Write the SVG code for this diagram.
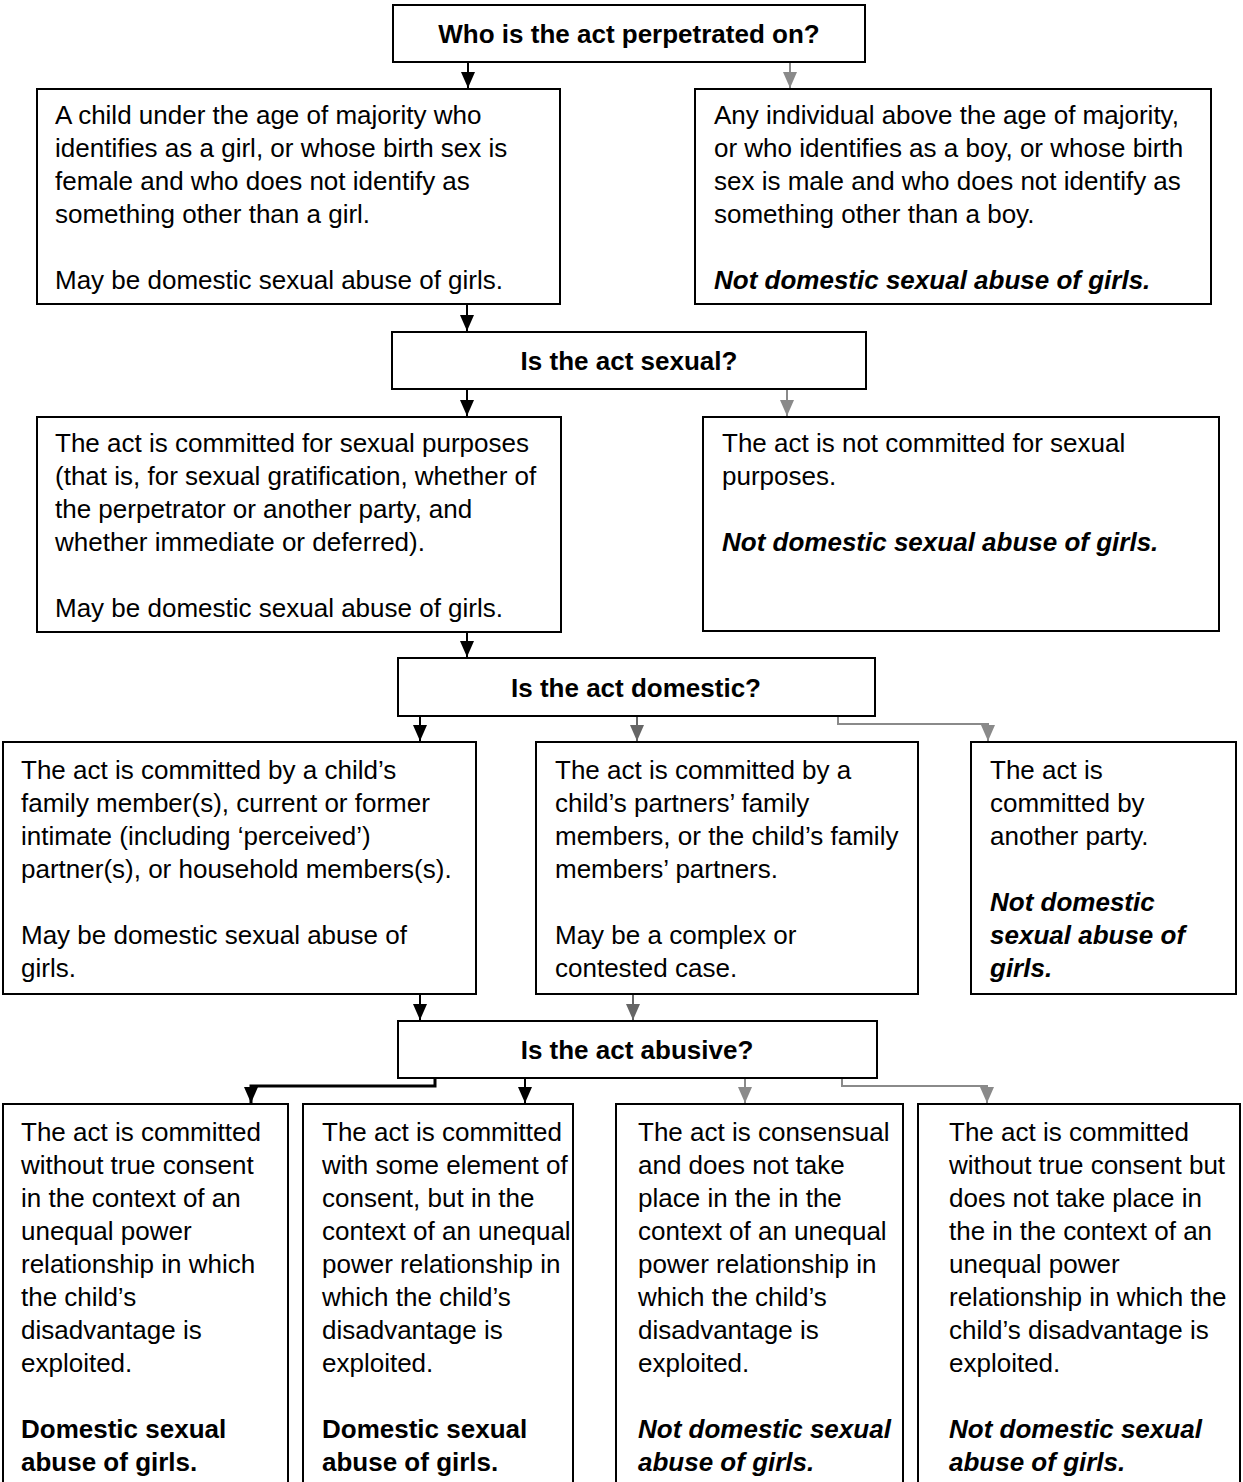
<svg xmlns="http://www.w3.org/2000/svg" width="1243" height="1482" viewBox="0 0 1243 1482">
<style>
.box{fill:#fff;stroke:#000;stroke-width:2}
.t{font-family:"Liberation Sans",Arial,sans-serif;font-size:26px;fill:#000}
.h{font-family:"Liberation Sans",Arial,sans-serif;font-size:26px;font-weight:bold;fill:#000;text-anchor:middle}
.b{font-weight:bold}
.bi{font-weight:bold;font-style:italic}
.k{fill:none;stroke:#000;stroke-width:2}
.g1{fill:none;stroke:#666;stroke-width:2}
.g2{fill:none;stroke:#8a8a8a;stroke-width:2}
</style>
<defs>
<marker id="ak" markerUnits="userSpaceOnUse" markerWidth="14" markerHeight="16" refX="7" refY="16" viewBox="0 0 14 16"><polygon points="0,0 14,0 7,16" fill="#000"/></marker>
<marker id="ag1" markerUnits="userSpaceOnUse" markerWidth="14" markerHeight="16" refX="7" refY="16" viewBox="0 0 14 16"><polygon points="0,0 14,0 7,16" fill="#666"/></marker>
<marker id="ag2" markerUnits="userSpaceOnUse" markerWidth="14" markerHeight="16" refX="7" refY="16" viewBox="0 0 14 16"><polygon points="0,0 14,0 7,16" fill="#8a8a8a"/></marker>
</defs>
<g id="connectors">
<path class="k" d="M468 62 V88" marker-end="url(#ak)"/>
<path class="g2" d="M790 62 V88" marker-end="url(#ag2)"/>
<path class="k" d="M467 304 V331" marker-end="url(#ak)"/>
<path class="k" d="M467 389 V416" marker-end="url(#ak)"/>
<path class="g2" d="M787 389 V416" marker-end="url(#ag2)"/>
<path class="k" d="M467 632 V657" marker-end="url(#ak)"/>
<path class="k" d="M420 716 V741" marker-end="url(#ak)"/>
<path class="g1" d="M637 716 V741" marker-end="url(#ag1)"/>
<path class="g2" d="M838 716 V724 H988 V741" marker-end="url(#ag2)"/>
<path class="k" d="M420 994 V1020" marker-end="url(#ak)"/>
<path class="g1" d="M633 994 V1020" marker-end="url(#ag1)"/>
<path class="k" style="stroke-width:3" d="M435 1078 V1086 H251 V1103" marker-end="url(#ak)"/>
<path class="k" d="M525 1078 V1103" marker-end="url(#ak)"/>
<path class="g2" d="M745 1078 V1103" marker-end="url(#ag2)"/>
<path class="g2" d="M842 1078 V1086 H987 V1103" marker-end="url(#ag2)"/>
</g>
<g id="q1">
<rect class="box" x="393" y="5" width="472" height="57"/>
<text class="h" x="629" y="43">Who is the act perpetrated on?</text>
</g>
<g id="a">
<rect class="box" x="37" y="89" width="523" height="215"/>
<text class="t" x="55" y="124">A child under the age of majority who</text>
<text class="t" x="55" y="157">identifies as a girl, or whose birth sex is</text>
<text class="t" x="55" y="190">female and who does not identify as</text>
<text class="t" x="55" y="223">something other than a girl.</text>
<text class="t" x="55" y="289">May be domestic sexual abuse of girls.</text>
</g>
<g id="b">
<rect class="box" x="695" y="89" width="516" height="215"/>
<text class="t" x="714" y="124">Any individual above the age of majority,</text>
<text class="t" x="714" y="157">or who identifies as a boy, or whose birth</text>
<text class="t" x="714" y="190">sex is male and who does not identify as</text>
<text class="t" x="714" y="223">something other than a boy.</text>
<text class="t bi" x="714" y="289">Not domestic sexual abuse of girls.</text>
</g>
<g id="q2">
<rect class="box" x="392" y="332" width="474" height="57"/>
<text class="h" x="629" y="370">Is the act sexual?</text>
</g>
<g id="c">
<rect class="box" x="37" y="417" width="524" height="215"/>
<text class="t" x="55" y="452">The act is committed for sexual purposes</text>
<text class="t" x="55" y="485">(that is, for sexual gratification, whether of</text>
<text class="t" x="55" y="518">the perpetrator or another party, and</text>
<text class="t" x="55" y="551">whether immediate or deferred).</text>
<text class="t" x="55" y="617">May be domestic sexual abuse of girls.</text>
</g>
<g id="d">
<rect class="box" x="703" y="417" width="516" height="214"/>
<text class="t" x="722" y="452">The act is not committed for sexual</text>
<text class="t" x="722" y="485">purposes.</text>
<text class="t bi" x="722" y="551">Not domestic sexual abuse of girls.</text>
</g>
<g id="q3">
<rect class="box" x="398" y="658" width="477" height="58"/>
<text class="h" x="636" y="697">Is the act domestic?</text>
</g>
<g id="e">
<rect class="box" x="3" y="742" width="473" height="252"/>
<text class="t" x="21" y="779">The act is committed by a child’s</text>
<text class="t" x="21" y="812">family member(s), current or former</text>
<text class="t" x="21" y="845">intimate (including ‘perceived’)</text>
<text class="t" x="21" y="878">partner(s), or household members(s).</text>
<text class="t" x="21" y="944">May be domestic sexual abuse of</text>
<text class="t" x="21" y="977">girls.</text>
</g>
<g id="f">
<rect class="box" x="536" y="742" width="382" height="252"/>
<text class="t" x="555" y="779">The act is committed by a</text>
<text class="t" x="555" y="812">child’s partners’ family</text>
<text class="t" x="555" y="845">members, or the child’s family</text>
<text class="t" x="555" y="878">members’ partners.</text>
<text class="t" x="555" y="944">May be a complex or</text>
<text class="t" x="555" y="977">contested case.</text>
</g>
<g id="g">
<rect class="box" x="971" y="742" width="265" height="252"/>
<text class="t" x="990" y="779">The act is</text>
<text class="t" x="990" y="812">committed by</text>
<text class="t" x="990" y="845">another party.</text>
<text class="t bi" x="990" y="911">Not domestic</text>
<text class="t bi" x="990" y="944">sexual abuse of</text>
<text class="t bi" x="990" y="977">girls.</text>
</g>
<g id="q4">
<rect class="box" x="398" y="1021" width="479" height="57"/>
<text class="h" x="637" y="1059">Is the act abusive?</text>
</g>
<g id="h">
<rect class="box" x="3" y="1104" width="285" height="400"/>
<text class="t" x="21" y="1141">The act is committed</text>
<text class="t" x="21" y="1174">without true consent</text>
<text class="t" x="21" y="1207">in the context of an</text>
<text class="t" x="21" y="1240">unequal power</text>
<text class="t" x="21" y="1273">relationship in which</text>
<text class="t" x="21" y="1306">the child’s</text>
<text class="t" x="21" y="1339">disadvantage is</text>
<text class="t" x="21" y="1372">exploited.</text>
<text class="t b" x="21" y="1438">Domestic sexual</text>
<text class="t b" x="21" y="1471">abuse of girls.</text>
</g>
<g id="i">
<rect class="box" x="303" y="1104" width="270" height="400"/>
<text class="t" x="322" y="1141">The act is committed</text>
<text class="t" x="322" y="1174">with some element of</text>
<text class="t" x="322" y="1207">consent, but in the</text>
<text class="t" x="322" y="1240">context of an unequal</text>
<text class="t" x="322" y="1273">power relationship in</text>
<text class="t" x="322" y="1306">which the child’s</text>
<text class="t" x="322" y="1339">disadvantage is</text>
<text class="t" x="322" y="1372">exploited.</text>
<text class="t b" x="322" y="1438">Domestic sexual</text>
<text class="t b" x="322" y="1471">abuse of girls.</text>
</g>
<g id="j">
<rect class="box" x="616" y="1104" width="287" height="400"/>
<text class="t" x="638" y="1141">The act is consensual</text>
<text class="t" x="638" y="1174">and does not take</text>
<text class="t" x="638" y="1207">place in the in the</text>
<text class="t" x="638" y="1240">context of an unequal</text>
<text class="t" x="638" y="1273">power relationship in</text>
<text class="t" x="638" y="1306">which the child’s</text>
<text class="t" x="638" y="1339">disadvantage is</text>
<text class="t" x="638" y="1372">exploited.</text>
<text class="t bi" x="638" y="1438">Not domestic sexual</text>
<text class="t bi" x="638" y="1471">abuse of girls.</text>
</g>
<g id="k">
<rect class="box" x="918" y="1104" width="322" height="400"/>
<text class="t" x="949" y="1141">The act is committed</text>
<text class="t" x="949" y="1174">without true consent but</text>
<text class="t" x="949" y="1207">does not take place in</text>
<text class="t" x="949" y="1240">the in the context of an</text>
<text class="t" x="949" y="1273">unequal power</text>
<text class="t" x="949" y="1306">relationship in which the</text>
<text class="t" x="949" y="1339">child’s disadvantage is</text>
<text class="t" x="949" y="1372">exploited.</text>
<text class="t bi" x="949" y="1438">Not domestic sexual</text>
<text class="t bi" x="949" y="1471">abuse of girls.</text>
</g>
</svg>
